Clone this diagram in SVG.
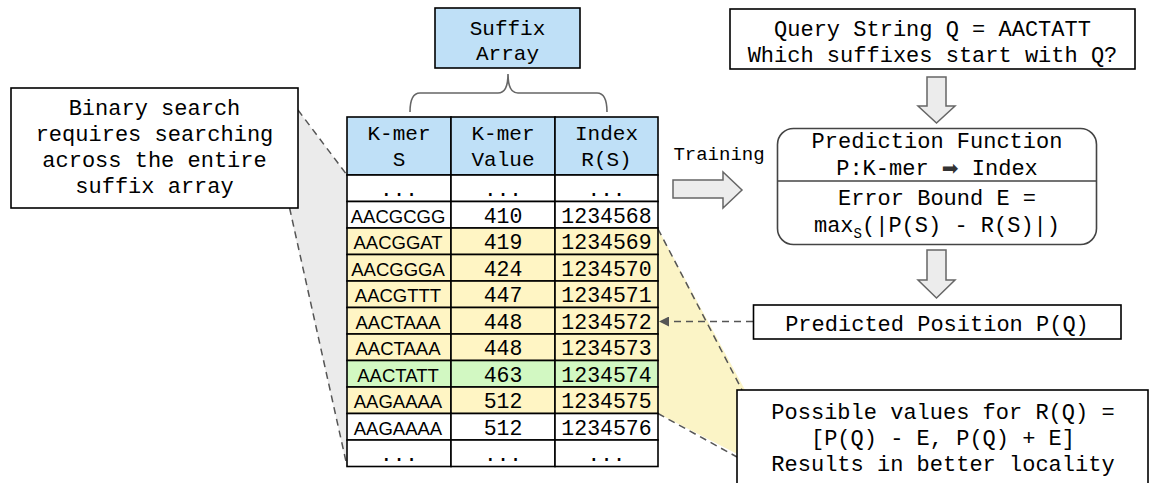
<svg xmlns="http://www.w3.org/2000/svg" width="1149" height="483" viewBox="0 0 1149 483">
<defs>
<style>
.mono{font-family:"Liberation Mono","DejaVu Sans Mono",monospace;fill:#000}
.sans{font-family:"Liberation Sans",Arial,sans-serif;fill:#000;font-size:18.5px}
.t22{font-size:22px}
.t21{font-size:21px}
.num{font-size:21.5px}
.box{fill:#fff;stroke:#000;stroke-width:1.6}
.blue{fill:#bfe0f7;stroke:#000;stroke-width:1.6}
.cw{fill:#fff;stroke:#000;stroke-width:1.6}
.cy{fill:#fff5c4;stroke:#000;stroke-width:1.6}
.cg{fill:#d2f8c2;stroke:#000;stroke-width:1.6}
.dash{fill:none;stroke:#555;stroke-width:1.5;stroke-dasharray:7 5}
.barrow{fill:#ececec;stroke:#666;stroke-width:1.5}
</style>
<marker id="ah" markerWidth="10" markerHeight="10" refX="9" refY="5" orient="auto" markerUnits="userSpaceOnUse" viewBox="0 0 10 10">
<path d="M0,0 L10,5 L0,10 Z" fill="#555"/>
</marker>
</defs>

<g id="connectors">
<polygon points="290,100 347,175 347,466 285,190" fill="#ebebeb"/>
<line class="dash" x1="298" y1="110" x2="347" y2="175"/>
<line class="dash" x1="289.6" y1="208" x2="347" y2="466"/>
<polygon points="658,229 745,390 745,458 658,413.5" fill="#fbf4c6"/>
<line class="dash" x1="658" y1="229" x2="742" y2="390"/>
<line class="dash" x1="658" y1="413.5" x2="737" y2="457"/>
<path d="M410,112 Q410,93 420,93 L498,93 Q508,93 508,74 Q508,93 518,93 L597,93 Q607,93 607,112" fill="none" stroke="#666" stroke-width="1.6"/>
<path class="barrow" d="M927,77 L946,77 L946,106 L955,106 L936.5,123 L918,106 L927,106 Z"/>
<path class="barrow" d="M927,250 L946,250 L946,280 L955,280 L936.5,298 L918,280 L927,280 Z"/>
<path class="barrow" d="M673,180 L723,180 L723,172 L742,190 L723,208 L723,198 L673,198 Z"/>
<line x1="753" y1="321.5" x2="660" y2="321.5" stroke="#555" stroke-width="1.5" stroke-dasharray="7 5" marker-end="url(#ah)"/>
<text class="mono" x="719" y="160" font-size="19" text-anchor="middle">Training</text>
</g>

<g id="suffix-array-label">
<rect class="blue" x="435" y="8" width="145" height="60"/>
<text class="mono t21" x="507.5" y="35" text-anchor="middle">Suffix</text>
<text class="mono t21" x="507.5" y="60" text-anchor="middle">Array</text>
</g>

<g id="binary-search-note">
<rect class="box" x="11" y="88" width="287" height="120"/>
<text class="mono t22" x="154.5" y="115" text-anchor="middle">Binary search</text>
<text class="mono t22" x="154.5" y="141" text-anchor="middle">requires searching</text>
<text class="mono t22" x="154.5" y="167" text-anchor="middle">across the entire</text>
<text class="mono t22" x="154.5" y="193" text-anchor="middle">suffix array</text>
</g>

<g id="suffix-table">
<rect class="blue" x="347" y="117" width="104" height="58"/>
<rect class="blue" x="451" y="117" width="104" height="58"/>
<rect class="blue" x="555" y="117" width="103" height="58"/>
<text class="mono t21" x="399" y="140" text-anchor="middle">K-mer</text>
<text class="mono t21" x="399" y="166" text-anchor="middle">S</text>
<text class="mono t21" x="503" y="140" text-anchor="middle">K-mer</text>
<text class="mono t21" x="503" y="166" text-anchor="middle">Value</text>
<text class="mono t21" x="606.5" y="140" text-anchor="middle">Index</text>
<text class="mono t21" x="606.5" y="166" text-anchor="middle">R(S)</text>

<g class="row">
<rect class="cw" x="347" y="175" width="104" height="26.5"/><rect class="cw" x="451" y="175" width="104" height="26.5"/><rect class="cw" x="555" y="175" width="103" height="26.5"/>
<text class="mono t21" x="399" y="195.5" text-anchor="middle">...</text><text class="mono t21" x="503" y="195.5" text-anchor="middle">...</text><text class="mono t21" x="606.5" y="195.5" text-anchor="middle">...</text>
</g>
<g class="row">
<rect class="cw" x="347" y="201.5" width="104" height="26.5"/><rect class="cw" x="451" y="201.5" width="104" height="26.5"/><rect class="cw" x="555" y="201.5" width="103" height="26.5"/>
<text class="sans" x="398" y="222.5" text-anchor="middle">AACGCGG</text><text class="mono num" x="503" y="222.5" text-anchor="middle">410</text><text class="mono num" x="606.5" y="222.5" text-anchor="middle">1234568</text>
</g>
<g class="row">
<rect class="cy" x="347" y="228" width="104" height="26.5"/><rect class="cy" x="451" y="228" width="104" height="26.5"/><rect class="cy" x="555" y="228" width="103" height="26.5"/>
<text class="sans" x="398" y="249" text-anchor="middle">AACGGAT</text><text class="mono num" x="503" y="249" text-anchor="middle">419</text><text class="mono num" x="606.5" y="249" text-anchor="middle">1234569</text>
</g>
<g class="row">
<rect class="cy" x="347" y="254.5" width="104" height="26.5"/><rect class="cy" x="451" y="254.5" width="104" height="26.5"/><rect class="cy" x="555" y="254.5" width="103" height="26.5"/>
<text class="sans" x="398" y="275.5" text-anchor="middle">AACGGGA</text><text class="mono num" x="503" y="275.5" text-anchor="middle">424</text><text class="mono num" x="606.5" y="275.5" text-anchor="middle">1234570</text>
</g>
<g class="row">
<rect class="cy" x="347" y="281" width="104" height="26.5"/><rect class="cy" x="451" y="281" width="104" height="26.5"/><rect class="cy" x="555" y="281" width="103" height="26.5"/>
<text class="sans" x="398" y="302" text-anchor="middle">AACGTTT</text><text class="mono num" x="503" y="302" text-anchor="middle">447</text><text class="mono num" x="606.5" y="302" text-anchor="middle">1234571</text>
</g>
<g class="row">
<rect class="cy" x="347" y="307.5" width="104" height="26.5"/><rect class="cy" x="451" y="307.5" width="104" height="26.5"/><rect class="cy" x="555" y="307.5" width="103" height="26.5"/>
<text class="sans" x="398" y="328.5" text-anchor="middle">AACTAAA</text><text class="mono num" x="503" y="328.5" text-anchor="middle">448</text><text class="mono num" x="606.5" y="328.5" text-anchor="middle">1234572</text>
</g>
<g class="row">
<rect class="cy" x="347" y="334" width="104" height="26.5"/><rect class="cy" x="451" y="334" width="104" height="26.5"/><rect class="cy" x="555" y="334" width="103" height="26.5"/>
<text class="sans" x="398" y="355" text-anchor="middle">AACTAAA</text><text class="mono num" x="503" y="355" text-anchor="middle">448</text><text class="mono num" x="606.5" y="355" text-anchor="middle">1234573</text>
</g>
<g class="row">
<rect class="cg" x="347" y="360.5" width="104" height="26.5"/><rect class="cg" x="451" y="360.5" width="104" height="26.5"/><rect class="cg" x="555" y="360.5" width="103" height="26.5"/>
<text class="sans" x="398" y="381.5" text-anchor="middle">AACTATT</text><text class="mono num" x="503" y="381.5" text-anchor="middle">463</text><text class="mono num" x="606.5" y="381.5" text-anchor="middle">1234574</text>
</g>
<g class="row">
<rect class="cy" x="347" y="387" width="104" height="26.5"/><rect class="cy" x="451" y="387" width="104" height="26.5"/><rect class="cy" x="555" y="387" width="103" height="26.5"/>
<text class="sans" x="398" y="408" text-anchor="middle">AAGAAAA</text><text class="mono num" x="503" y="408" text-anchor="middle">512</text><text class="mono num" x="606.5" y="408" text-anchor="middle">1234575</text>
</g>
<g class="row">
<rect class="cw" x="347" y="413.5" width="104" height="26.5"/><rect class="cw" x="451" y="413.5" width="104" height="26.5"/><rect class="cw" x="555" y="413.5" width="103" height="26.5"/>
<text class="sans" x="398" y="434.5" text-anchor="middle">AAGAAAA</text><text class="mono num" x="503" y="434.5" text-anchor="middle">512</text><text class="mono num" x="606.5" y="434.5" text-anchor="middle">1234576</text>
</g>
<g class="row">
<rect class="cw" x="347" y="440" width="104" height="26.5"/><rect class="cw" x="451" y="440" width="104" height="26.5"/><rect class="cw" x="555" y="440" width="103" height="26.5"/>
<text class="mono t21" x="399" y="460.5" text-anchor="middle">...</text><text class="mono t21" x="503" y="460.5" text-anchor="middle">...</text><text class="mono t21" x="606.5" y="460.5" text-anchor="middle">...</text>
</g>
</g>

<g id="query-box">
<rect class="box" x="730" y="9" width="405" height="60"/>
<text class="mono t22" x="932.5" y="36" text-anchor="middle">Query String Q = AACTATT</text>
<text class="mono t22" x="932.5" y="62" text-anchor="middle">Which suffixes start with Q?</text>
</g>

<g id="prediction-function">
<rect x="777.5" y="128.5" width="319" height="116" rx="16" ry="16" fill="#fff" stroke="#444" stroke-width="1.6"/>
<line x1="777.5" y1="181" x2="1096.5" y2="181" stroke="#444" stroke-width="1.6"/>
<text class="mono t22" x="937" y="147.5" text-anchor="middle">Prediction Function</text>
<text class="mono t22" x="937" y="174.5" text-anchor="middle">P:K-mer <tspan font-family="DejaVu Sans,sans-serif" font-size="20" fill="#333">➡</tspan> Index</text>
<text class="mono t22" x="937" y="204.5" text-anchor="middle">Error Bound E =</text>
<text class="mono t22" x="937" y="231.5" text-anchor="middle">max<tspan font-size="14" dy="6">S</tspan><tspan dy="-6">(|P(S) - R(S)|)</tspan></text>
</g>

<g id="predicted-position">
<rect class="box" x="753.5" y="305" width="367.5" height="34"/>
<text class="mono t22" x="937" y="331" text-anchor="middle">Predicted Position P(Q)</text>
</g>

<g id="possible-values">
<rect class="box" x="737" y="390" width="411" height="100"/>
<text class="mono t22" x="943" y="418.5" text-anchor="middle">Possible values for R(Q) =</text>
<text class="mono t22" x="943" y="444.5" text-anchor="middle">[P(Q) - E, P(Q) + E]</text>
<text class="mono t22" x="943" y="470.5" text-anchor="middle">Results in better locality</text>
</g>
</svg>
